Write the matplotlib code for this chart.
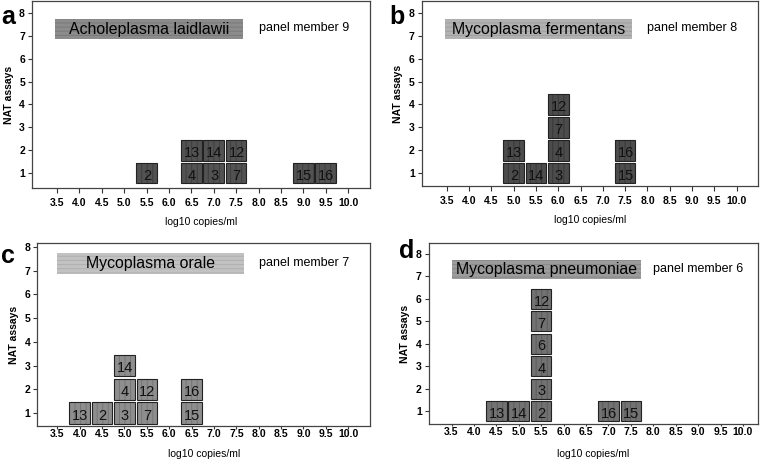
import matplotlib
matplotlib.use("Agg")
import matplotlib.pyplot as plt
from matplotlib.patches import Rectangle

plt.rcParams['font.family'] = ['Liberation Sans', 'DejaVu Sans']
plt.rcParams['hatch.linewidth'] = 0.7

# panel data: x = log10 copies/ml, y = stack level, lab = laboratory code
a_x = [5.5, 6.5, 6.5, 7.0, 7.0, 7.5, 7.5, 9.0, 9.5]
a_y = [1, 1, 2, 1, 2, 1, 2, 1, 1]
a_lab = ['2', '4', '13', '3', '14', '7', '12', '15', '16']

b_x = [5.0, 5.0, 5.5, 6.0, 6.0, 6.0, 6.0, 7.5, 7.5]
b_y = [1, 2, 1, 1, 2, 3, 4, 1, 2]
b_lab = ['2', '13', '14', '3', '4', '7', '12', '15', '16']

c_x = [4.0, 4.5, 5.0, 5.0, 5.0, 5.5, 5.5, 6.5, 6.5]
c_y = [1, 1, 1, 2, 3, 1, 2, 1, 2]
c_lab = ['13', '2', '3', '4', '14', '7', '12', '15', '16']

d_x = [4.5, 5.0, 5.5, 5.5, 5.5, 5.5, 5.5, 5.5, 7.0, 7.5]
d_y = [1, 1, 1, 2, 3, 4, 5, 6, 1, 1]
d_lab = ['13', '14', '2', '3', '4', '6', '7', '12', '16', '15']

organisms = ['Acholeplasma laidlawii', 'Mycoplasma fermentans',
             'Mycoplasma orale', 'Mycoplasma pneumoniae']
members = ['panel member 9', 'panel member 8', 'panel member 7', 'panel member 6']
letters = ['a', 'b', 'c', 'd']
xticks = [3.5, 4.0, 4.5, 5.0, 5.5, 6.0, 6.5, 7.0, 7.5, 8.0, 8.5, 9.0, 9.5, 10.0]
yticks = [1, 2, 3, 4, 5, 6, 7, 8]

panels = [(a_x, a_y, a_lab), (b_x, b_y, b_lab), (c_x, c_y, c_lab), (d_x, d_y, d_lab)]

# layout / style per panel
positions = [[0.042, 0.593, 0.445, 0.405],
             [0.555, 0.597, 0.443, 0.401],
             [0.049, 0.078, 0.438, 0.396],
             [0.564, 0.082, 0.433, 0.392]]
xlims = [(2.94, 10.49), (2.94, 10.49), (3.05, 10.49), (2.99, 10.33)]
ylims = [(0.35, 8.52), (0.43, 8.52), (0.45, 8.17), (0.42, 8.49)]
tick_len = [3.5, 3.5, 2.0, 1.5]
tick_pad = [3.5, 3.5, 0.5, 0.5]
xlab_pad = [6.6, 6.6, 7.0, 9.0]
letter_xy = [(1, 17), (389, 17), (1, 256), (399, 251)]
box_colors = ['#525252', '#4c4c4c', '#8e8e8e', '#727272']
stripe_colors = ['#3e3e3e', '#383838', '#767676', '#5c5c5c']
title_colors = ['#8c8c8c', '#b2b2b2', '#c2c2c2', '#9c9c9c']
title_stripes = ['#7a7a7a', '#a0a0a0', '#b0b0b0', '#8a8a8a']
title_x = [(3.46, 7.66), (3.46, 7.66), (3.5, 7.66), (3.5, 7.72)]

fig = plt.figure(figsize=(7.6, 4.62), dpi=100)

for i, (xs, ys, labs) in enumerate(panels):
    ax = fig.add_axes(positions[i])
    w, h = 0.46, 0.9
    for x, y, lab in zip(xs, ys, labs):
        ax.add_patch(Rectangle((x - w / 2, y - h / 2), w, h, facecolor=box_colors[i],
                               edgecolor=stripe_colors[i], hatch='|||', lw=0))
        ax.add_patch(Rectangle((x - w / 2, y - h / 2), w, h, facecolor='none',
                               edgecolor='#222222', lw=0.8))
        ax.text(x + 0.01, y - 0.12, lab, ha='center', va='center', fontsize=10.5,
                color='#111111')

    x0, x1 = title_x[i]
    ax.add_patch(Rectangle((x0, 6.87), x1 - x0, 0.88, facecolor=title_colors[i],
                           edgecolor=title_stripes[i], hatch='----', lw=0))
    ax.text((x0 + x1) / 2, 7.29, organisms[i], ha='center', va='center', fontsize=11.4)
    ax.text(8.0, 7.32, members[i], ha='left', va='center', fontsize=9.0)

    ax.set_xlim(*xlims[i])
    ax.set_ylim(*ylims[i])
    ax.set_xticks(xticks)
    ax.set_xticklabels(['%.1f' % t for t in xticks], fontsize=7.5, fontweight='bold')
    ax.set_yticks(yticks)
    ax.set_yticklabels([str(t) for t in yticks], fontsize=7.5, fontweight='bold')
    ax.tick_params(axis='x', length=tick_len[i], width=0.8, color='#333333', pad=tick_pad[i])
    ax.tick_params(axis='y', length=3, width=0.8, color='#333333', pad=2)
    for s in ax.spines.values():
        s.set_color('#444444')
        s.set_linewidth(0.9)
    ax.set_xlabel('log10 copies/ml', fontsize=7.5, labelpad=xlab_pad[i])
    ax.set_ylabel('NAT assays', fontsize=7.5, fontweight='bold', labelpad=4)

    lx, ly = letter_xy[i]
    fig.text(lx / 760, 1 - ly / 462, letters[i], fontsize=18,
             fontweight='bold', ha='left', va='center')

fig.savefig('out.png', dpi=100)
